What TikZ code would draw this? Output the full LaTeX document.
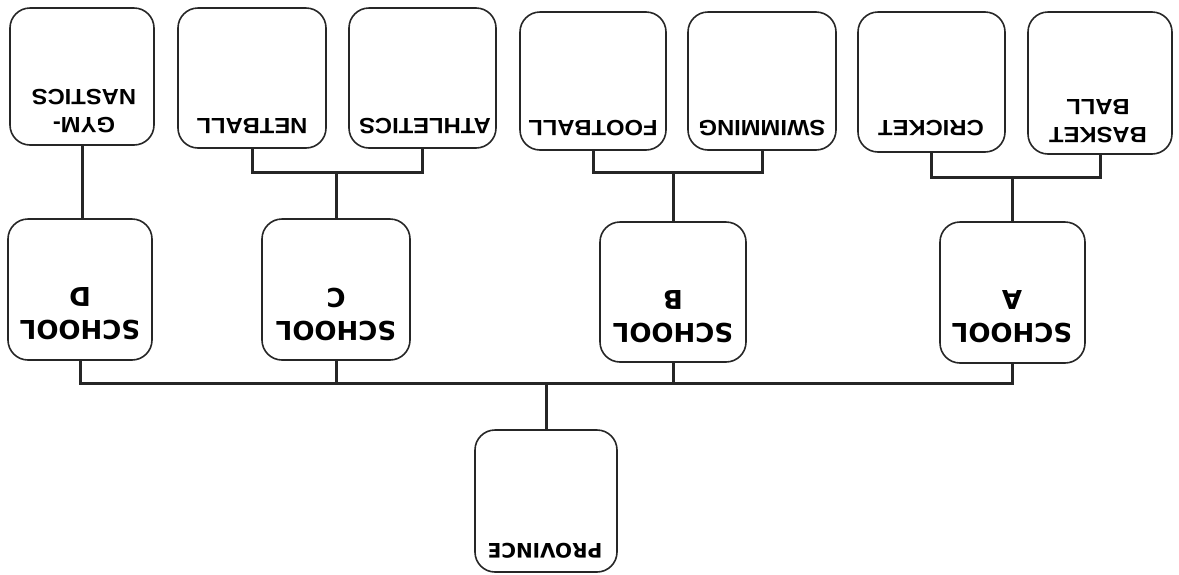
\documentclass[tikz,border=0pt]{standalone}
\usepackage{fontspec}
\newfontfamily\labfont[FakeStretch=1.08]{Liberation Sans}
\newfontfamily\heavyfont{DejaVu Sans}
\begin{document}
\begin{tikzpicture}[x=1pt,y=-1pt,
  box/.style={draw=black!85, line width=1.6pt, rounded corners=20pt, fill=white, inner sep=0pt},
  conn/.style={draw=black!85, line width=3pt},
  lbl/.style={rotate=180, align=center, inner sep=0pt, font=\labfont\bfseries\fontsize{22}{28}\selectfont},
  slbl/.style={rotate=180, align=center, inner sep=0pt, font=\heavyfont\bfseries\fontsize{26}{33}\selectfont},
  plbl/.style={rotate=180, align=center, inner sep=0pt, font=\heavyfont\bfseries\fontsize{20}{24}\selectfont}]
\useasboundingbox[fill=white] (0,0) rectangle (1179,574);
% boxes
\node[box, minimum width=144pt, minimum height=137pt] (gym) at (82,76.5) {};
\node[box, minimum width=148pt, minimum height=140pt] (net) at (252,78) {};
\node[box, minimum width=147pt, minimum height=140pt] (ath) at (422.5,78) {};
\node[box, minimum width=146pt, minimum height=138pt] (foot) at (593,81) {};
\node[box, minimum width=148pt, minimum height=138pt] (swim) at (762,81) {};
\node[box, minimum width=147pt, minimum height=140pt] (crick) at (931.5,82) {};
\node[box, minimum width=144pt, minimum height=142pt] (bask) at (1100,83) {};
\node[box, minimum width=144pt, minimum height=141pt] (sd) at (80,289.5) {};
\node[box, minimum width=148pt, minimum height=141pt] (sc) at (336,289.5) {};
\node[box, minimum width=146pt, minimum height=140pt] (sb) at (673,292) {};
\node[box, minimum width=145pt, minimum height=141pt] (sa) at (1012.5,292.5) {};
\node[box, minimum width=142pt, minimum height=142pt] (prov) at (546,501) {};
% labels
\node[lbl] (tgym) at (84,111) {GYM-\\NASTICS};
\node[lbl] (tnet) at (252,126) {NETBALL};
\node[lbl] (tath) at (425,126) {ATHLETICS};
\node[lbl] (tfoot) at (593,128) {FOOTBALL};
\node[lbl] (tswim) at (762,128) {SWIMMING};
\node[lbl] (tcrick) at (931,128) {CRICKET};
\node[lbl] (tbask) at (1098,121) {BASKET\\BALL};
\node[slbl] (tsd) at (80,314) {SCHOOL\\D};
\node[slbl] (tsc) at (336,314) {SCHOOL\\C};
\node[slbl] (tsb) at (673,317) {SCHOOL\\B};
\node[slbl] (tsa) at (1012,317) {SCHOOL\\A};
\node[plbl] (tprov) at (545,551) {PROVINCE};
% junctions
\coordinate (jc) at (sc.north |- 0,172);
\coordinate (jb) at (sb.north |- 0,172);
\coordinate (ja) at (sa.north |- 0,177);
\coordinate (jp) at (prov.north |- 0,383);
% connectors
\draw[conn] (gym.south) -- (gym.south |- sd.north);
\draw[conn] (net.south) |- (jc) -| (ath.south);
\draw[conn] (jc) -- (sc.north);
\draw[conn] (foot.south) |- (jb) -| (swim.south);
\draw[conn] (jb) -- (sb.north);
\draw[conn] (crick.south) |- (ja) -| (bask.south);
\draw[conn] (ja) -- (sa.north);
\draw[conn] (sd.south) |- (jp) -| (sa.south);
\draw[conn] (sc.south) -- (sc.south |- jp);
\draw[conn] (sb.south) -- (sb.south |- jp);
\draw[conn] (jp) -- (prov.north);
\end{tikzpicture}
\end{document}
